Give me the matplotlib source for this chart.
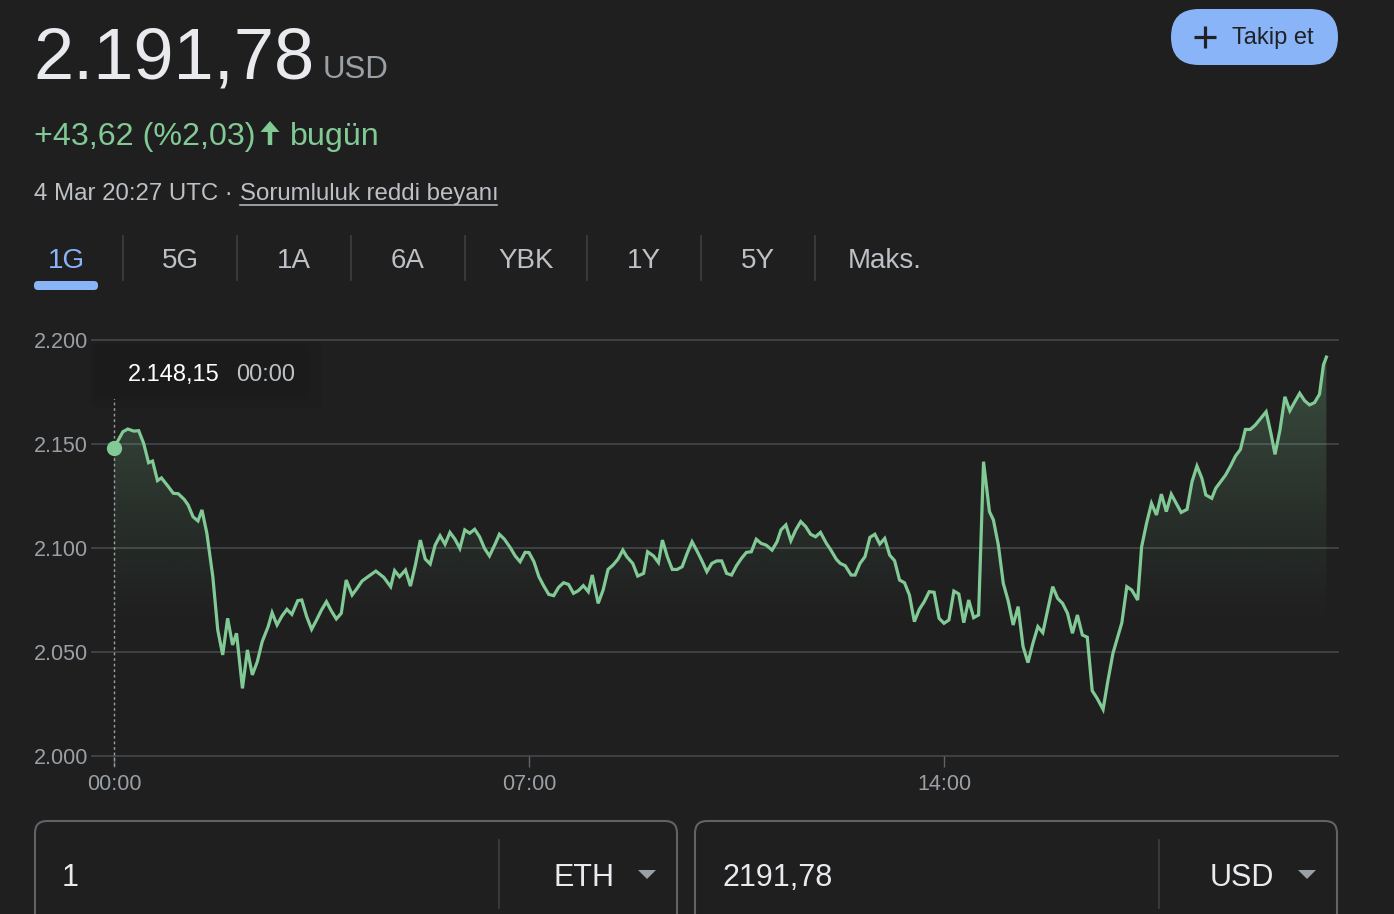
import matplotlib
matplotlib.use("Agg")
import matplotlib.pyplot as plt
import numpy as np
from matplotlib.patches import FancyBboxPatch, Polygon, FancyArrow

plt.rcParams['font.family'] = ['Liberation Sans', 'DejaVu Sans']

# ETH/USD, 4 Mar, minutes after 00:00 UTC
minutes = [0, 9, 14, 20, 25, 30, 35, 39, 44, 48,
           55, 60, 65, 71, 75, 80, 85, 89, 94, 100,
           105, 110, 115, 120, 124, 130, 135, 140, 145, 150,
           156, 160, 165, 170, 175, 180, 186, 190, 195, 200,
           205, 210, 215, 220, 225, 230, 235, 241, 246, 251,
           257, 265, 273, 280, 284, 289, 295, 300, 305, 310,
           315, 320, 325, 330, 335, 340, 345, 350, 355, 360,
           365, 370, 375, 380, 386, 390, 395, 401, 406, 411,
           416, 420, 425, 430, 435, 440, 445, 450, 455, 460,
           465, 470, 475, 480, 484, 490, 495, 500, 505, 510,
           515, 519, 525, 530, 536, 540, 546, 551, 555, 560,
           565, 570, 575, 580, 585, 590, 595, 600, 605, 610,
           615, 620, 625, 630, 635, 640, 645, 650, 655, 660,
           666, 671, 675, 680, 685, 690, 695, 700, 705, 710,
           715, 721, 725, 731, 735, 740, 746, 750, 755, 760,
           765, 770, 775, 780, 785, 790, 795, 800, 805, 810,
           815, 820, 825, 830, 835, 840, 845, 850, 855, 860,
           865, 870, 875, 880, 886, 890, 895, 900, 905, 910,
           915, 920, 925, 930, 935, 940, 946, 950, 955, 960,
           965, 970, 975, 980, 985, 990, 995, 1001, 1006, 1011,
           1020, 1025, 1030, 1036, 1040, 1045, 1050, 1055, 1060, 1065,
           1070, 1075, 1080, 1086, 1091, 1096, 1101, 1105, 1111, 1115,
           1120, 1125, 1130, 1135, 1140, 1145, 1150, 1155, 1160, 1166,
           1171, 1175, 1180, 1185, 1190, 1195, 1200, 1205, 1210, 1215,
           1220, 1224, 1227]
prices = [2148.15, 2155.9, 2157.2, 2156.2, 2156.4, 2150.3, 2141.0, 2141.8, 2132.4, 2133.7,
          2129.5, 2126.3, 2126.1, 2123.4, 2120.7, 2115.0, 2113.0, 2118.3, 2107.0, 2086.2,
          2060.6, 2048.6, 2066.2, 2053.4, 2059.0, 2032.5, 2051.0, 2039.0, 2045.3, 2055.0,
          2062.2, 2068.9, 2063.0, 2067.3, 2070.5, 2068.1, 2074.7, 2075.0, 2067.0, 2060.9,
          2065.4, 2070.2, 2074.2, 2069.7, 2065.9, 2068.6, 2084.6, 2077.4, 2080.6, 2084.1,
          2086.2, 2088.9, 2085.9, 2081.4, 2089.1, 2086.2, 2089.4, 2081.7, 2091.8, 2103.8,
          2094.7, 2092.3, 2101.4, 2105.9, 2101.8, 2107.5, 2104.3, 2099.8, 2108.7, 2107.1,
          2109.0, 2105.4, 2099.8, 2096.2, 2102.2, 2106.6, 2104.3, 2100.2, 2096.2, 2093.4,
          2097.9, 2097.8, 2093.4, 2086.2, 2081.7, 2077.7, 2077.1, 2081.1, 2083.3, 2082.5,
          2078.2, 2079.5, 2081.9, 2079.0, 2087.0, 2073.4, 2079.8, 2089.7, 2091.8, 2094.6,
          2099.0, 2095.8, 2092.6, 2086.5, 2087.8, 2098.2, 2096.2, 2093.0, 2103.8, 2095.8,
          2089.7, 2089.7, 2091.0, 2097.4, 2103.0, 2098.6, 2093.8, 2088.6, 2092.6, 2093.8,
          2093.8, 2087.8, 2087.0, 2091.5, 2095.0, 2097.9, 2098.2, 2104.2, 2102.2, 2101.4,
          2099.0, 2103.0, 2108.7, 2111.1, 2103.5, 2108.7, 2112.7, 2110.3, 2106.6, 2105.4,
          2107.5, 2102.2, 2099.4, 2094.6, 2092.6, 2091.5, 2087.0, 2087.0, 2092.6, 2095.8,
          2105.1, 2106.6, 2101.9, 2104.6, 2096.6, 2093.9, 2084.6, 2083.3, 2077.4, 2064.6,
          2070.5, 2074.2, 2079.0, 2078.7, 2066.2, 2063.8, 2065.4, 2079.3, 2077.9, 2064.1,
          2075.0, 2066.5, 2067.8, 2141.5, 2117.5, 2113.5, 2101.4, 2083.0, 2074.5, 2063.0,
          2071.8, 2052.6, 2044.9, 2054.2, 2062.2, 2059.3, 2072.6, 2081.4, 2075.8, 2073.4,
          2068.6, 2059.0, 2067.8, 2058.2, 2057.1, 2031.4, 2027.7, 2022.4, 2036.5, 2049.4,
          2064.1, 2081.4, 2079.8, 2075.0, 2100.6, 2111.9, 2121.5, 2115.9, 2125.9, 2117.5,
          2125.9, 2121.5, 2117.1, 2118.6, 2131.9, 2139.4, 2133.5, 2125.5, 2123.9, 2128.7,
          2131.9, 2135.1, 2139.4, 2144.2, 2147.4, 2157.0, 2157.0, 2159.1, 2162.0, 2165.5,
          2154.8, 2145.0, 2156.7, 2172.7, 2166.0, 2170.3, 2174.4, 2170.8, 2168.8, 2169.9,
          2173.9, 2188.0, 2191.78]

y_ticks = [2000, 2050, 2100, 2150, 2200]
y_labels = ['2.000', '2.050', '2.100', '2.150', '2.200']
x_ticks = [0, 420, 840]
x_labels = ['00:00', '07:00', '14:00']
tabs = ['1G', '5G', '1A', '6A', 'YBK', '1Y', '5Y', 'Maks.']

BG = '#1f1f1f'
GREEN = '#81c995'
GRAY = '#9aa0a6'
LIGHT = '#bdc1c6'
W, H = 1394, 914

fig = plt.figure(figsize=(W / 100, H / 100), dpi=100, facecolor=BG)

# chart axes, placed in pixels
L, R, T, B = 92, 1338, 340, 756
ax = fig.add_axes([L / W, 1 - B / H, (R - L) / W, (B - T) / H])
ax.set_facecolor('none')
ppm = 830 / 840  # pixels per minute
ax.set_xlim((L - 114) / ppm, (R - 114) / ppm)
ax.set_ylim(2000, 2200)
for s in ax.spines.values():
    s.set_visible(False)

for yv in y_ticks:
    ax.axhline(yv, color='#45484b', lw=1.2, clip_on=False, zorder=1)
ax.set_yticks(y_ticks)
ax.set_yticklabels(y_labels)
ax.set_xticks(x_ticks)
ax.set_xticklabels(x_labels)
ax.tick_params(axis='y', length=0, pad=3, labelsize=15.5, labelcolor=GRAY)
ax.tick_params(axis='x', length=8, width=1, color='#5f6368', pad=5,
               labelsize=15.5, labelcolor=GRAY)

# gradient fill under the line
t = np.array(minutes, dtype=float)
p = np.array(prices)
grad = np.zeros((200, 1, 4))
grad[..., 0], grad[..., 1], grad[..., 2] = 129 / 255, 201 / 255, 149 / 255
lev = np.linspace(2000, 2200, 200)
grad[:, 0, 3] = 0.30 * np.clip((lev - 2060) / 140, 0, 1) ** 1.2
im = ax.imshow(grad, extent=[t[0], t[-1], 2000, 2200], origin='lower',
               aspect='auto', zorder=2, interpolation='bilinear')
verts = [(t[0], 2000)] + list(zip(t, p)) + [(t[-1], 2000)]
poly = Polygon(verts, closed=True, facecolor='none', edgecolor='none',
               transform=ax.transData)
ax.add_patch(poly)
im.set_clip_path(poly)

ax.plot([0, 0], [1995, 2190], color=GRAY, lw=1, ls=(0, (2, 2)), zorder=3, clip_on=False)
ax.plot(t, p, color=GREEN, lw=2.3, zorder=4, solid_joinstyle='miter')
ax.plot(t[0], p[0], 'o', color=GREEN, ms=10, zorder=5)

# overlay in pixel coordinates for the page elements
ov = fig.add_axes([0, 0, 1, 1], zorder=3)
ov.set_xlim(0, W)
ov.set_ylim(H, 0)
ov.axis('off')

ov.text(33, 78, '2.191,78', fontsize=52, color='#e8eaed', va='baseline')
ov.text(323, 78, 'USD', fontsize=22.5, color=GRAY, va='baseline')
ov.text(34, 145, '+43,62 (%2,03)', fontsize=23.2, color=GREEN, va='baseline')
ov.add_patch(FancyArrow(270, 145, 0, -24, width=4.5, head_width=19,
                        head_length=11, length_includes_head=True,
                        color=GREEN, lw=0))
ov.text(290, 145, 'bugün', fontsize=23.2, color=GREEN, va='baseline')
ov.text(34, 200, '4 Mar 20:27 UTC · ', fontsize=17.3, color=LIGHT, va='baseline')
ov.text(240, 200, 'Sorumluluk reddi beyanı', fontsize=17.3, color=LIGHT, va='baseline')
ov.plot([240, 497], [205, 205], color=LIGHT, lw=1.1)

# follow button
ov.add_patch(FancyBboxPatch((1171, 9), 167, 56, boxstyle='round,pad=0,rounding_size=28',
                            facecolor='#8ab4f8', edgecolor='none'))
ov.plot([1194, 1216], [37, 37], color='#202124', lw=2.3, solid_capstyle='butt')
ov.plot([1205, 1205], [26, 48], color='#202124', lw=2.3, solid_capstyle='butt')
ov.text(1232, 38, 'Takip et', fontsize=17, color='#202124', va='center')

# range tabs
tab_x = [66, 180, 294, 408, 526, 644, 758, 885]
for i, lab in enumerate(tabs):
    ov.text(tab_x[i], 268, lab, fontsize=20, ha='center', va='baseline',
            color='#8ab4f8' if i == 0 else LIGHT)
for sx in [123, 237, 351, 465, 587, 701, 815]:
    ov.plot([sx, sx], [236, 280], color='#3c4043', lw=1.2)
ov.add_patch(FancyBboxPatch((34, 281), 64, 9, boxstyle='round,pad=0,rounding_size=4',
                            facecolor='#8ab4f8', edgecolor='none'))

# tooltip
ov.add_patch(FancyBboxPatch((90, 342), 232, 66, boxstyle='round,pad=0,rounding_size=8',
                            facecolor='#000000', alpha=0.04, edgecolor='none'))
ov.add_patch(FancyBboxPatch((93, 344), 216, 55, boxstyle='round,pad=0,rounding_size=4',
                            facecolor='#1b1b1b', edgecolor='none'))
ov.text(128, 381, '2.148,15', fontsize=17, color='#ffffff', va='baseline')
ov.text(236, 381, '00:00', fontsize=17, color=LIGHT, va='baseline')

# converter boxes
for x0, x1, sep, val, cur in [(35, 677, 499, '1', 'ETH'), (695, 1337, 1159, '2191,78', 'USD')]:
    ov.add_patch(FancyBboxPatch((x0, 821), x1 - x0, 130, boxstyle='round,pad=0,rounding_size=12',
                                facecolor='none', edgecolor='#5f6368', lw=1.5))
    ov.plot([sep, sep], [840, 908], color='#3c4043', lw=1.2)
    ov.text(x0 + 27, 886, val, fontsize=22, color='#e8eaed', va='baseline')
    ov.text(x1 - 63, 886, cur, fontsize=22, color='#e8eaed', ha='right', va='baseline')
    ov.add_patch(Polygon([(x1 - 39, 870), (x1 - 21, 870), (x1 - 30, 879)],
                         closed=True, facecolor=GRAY, edgecolor='none'))

fig.savefig('out.png', dpi=100, facecolor=BG)
